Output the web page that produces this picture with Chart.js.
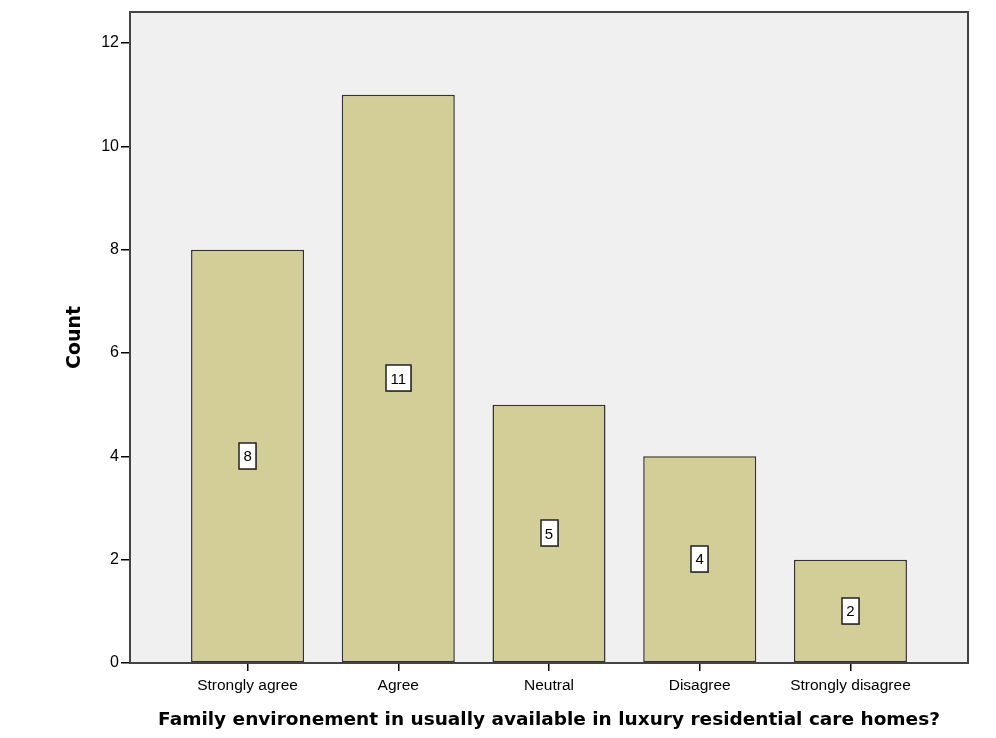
<!DOCTYPE html>
<html>
<head>
<meta charset="utf-8">
<script src="https://cdn.jsdelivr.net/npm/chart.js@4"></script>
<style>
html,body{margin:0;padding:0;background:#fff;}
#wrap{width:996px;height:738px;}
</style>
</head>
<body>
<div id="wrap"><canvas id="c" width="996" height="738"></canvas></div>
<script>
const categories = ["Strongly agree", "Agree", "Neutral", "Disagree", "Strongly disagree"];
const counts = [8, 11, 5, 4, 2];
const yTicks = [0, 2, 4, 6, 8, 10, 12];
const xTitle = "Family environement in usually available in luxury residential care homes?";
const yTitle = "Count";

const positions = categories.map((_, i) => i);
const points = positions.map((p, i) => ({x: p, y: counts[i]}));

const plotBg = {
  id: 'plotBg',
  beforeDraw(chart) {
    const {ctx, chartArea: a} = chart;
    ctx.save();
    ctx.fillStyle = '#f0f0f0';
    ctx.fillRect(a.left, a.top, a.right - a.left, a.bottom - a.top);
    ctx.restore();
  },
  afterDatasetsDraw(chart) {
    const {ctx, chartArea: a} = chart;
    ctx.save();
    ctx.strokeStyle = '#444';
    ctx.lineWidth = 2;
    ctx.strokeRect(a.left, a.top, a.right - a.left, a.bottom - a.top);
    const meta = chart.getDatasetMeta(0);
    ctx.font = '15px "Liberation Sans", Arial, sans-serif';
    ctx.textAlign = 'center';
    ctx.textBaseline = 'middle';
    meta.data.forEach((bar, i) => {
      const txt = String(counts[i]);
      const cx = bar.x;
      const cy = (bar.y + bar.base) / 2;
      const tw = ctx.measureText(txt).width;
      const w = Math.round(tw + 9), h = 26;
      const x0 = Math.round(cx - w / 2), y0 = Math.round(cy - h / 2);
      ctx.fillStyle = 'rgba(0,0,0,0.3)';
      ctx.fillRect(x0 + 1, y0 + 1, w, h);
      ctx.fillStyle = '#fff';
      ctx.fillRect(x0, y0, w, h);
      ctx.strokeStyle = '#222';
      ctx.lineWidth = 1.5;
      ctx.strokeRect(x0, y0, w, h);
      ctx.fillStyle = '#000';
      ctx.fillText(txt, cx, cy + 1);
    });
    ctx.restore();
  }
};

new Chart(document.getElementById('c'), {
  type: 'bar',
  data: {
    datasets: [{
      data: points,
      backgroundColor: '#d3ce98',
      borderColor: '#333',
      borderWidth: 1.5,
      borderSkipped: false,
      categoryPercentage: 0.75,
      barPercentage: 1.0
    }]
  },
  options: {
    responsive: false,
    animation: false,
    devicePixelRatio: 1,
    layout: {padding: {top: 12, right: 28, left: 0, bottom: 0}},
    plugins: {legend: {display: false}, tooltip: {enabled: false}},
    scales: {
      x: {
        type: 'linear',
        offset: false,
        min: -0.78,
        max: 4.78,
        afterBuildTicks(scale) { scale.ticks = positions.map(v => ({value: v})); },
        afterFit(scale) { scale.height = 75; },
        ticks: {
          callback: (v) => categories[v] ?? '',
          color: '#000',
          font: {family: '"Liberation Sans", Arial, sans-serif', size: 15.5},
          padding: 5,
          maxRotation: 0,
          autoSkip: false
        },
        grid: {offset: false, drawOnChartArea: false, drawTicks: true, tickLength: 8, color: '#000', lineWidth: 1.5},
        border: {display: true, color: '#444', width: 2},
        title: {
          display: true, text: xTitle, color: '#000',
          font: {family: '"DejaVu Sans", Verdana, sans-serif', size: 18.5, weight: 'bold', lineHeight: 1},
          padding: {top: 0, bottom: 9}
        }
      },
      y: {
        type: 'linear',
        min: 0,
        max: 12.6,
        afterBuildTicks(scale) { scale.ticks = yTicks.map(v => ({value: v})); },
        afterFit(scale) { scale.width = 130; },
        ticks: {
          color: '#000',
          font: {family: '"Liberation Sans", Arial, sans-serif', size: 16},
          padding: 2
        },
        grid: {drawOnChartArea: false, drawTicks: true, tickLength: 9, color: '#000', lineWidth: 1.5},
        border: {display: true, color: '#444', width: 2},
        title: {
          display: true, text: yTitle, color: '#000',
          font: {family: '"DejaVu Sans", Verdana, sans-serif', size: 19, weight: 'bold', lineHeight: 1},
          padding: {top: 66, bottom: 0}
        }
      }
    }
  },
  plugins: [plotBg]
});
</script>
</body>
</html>
